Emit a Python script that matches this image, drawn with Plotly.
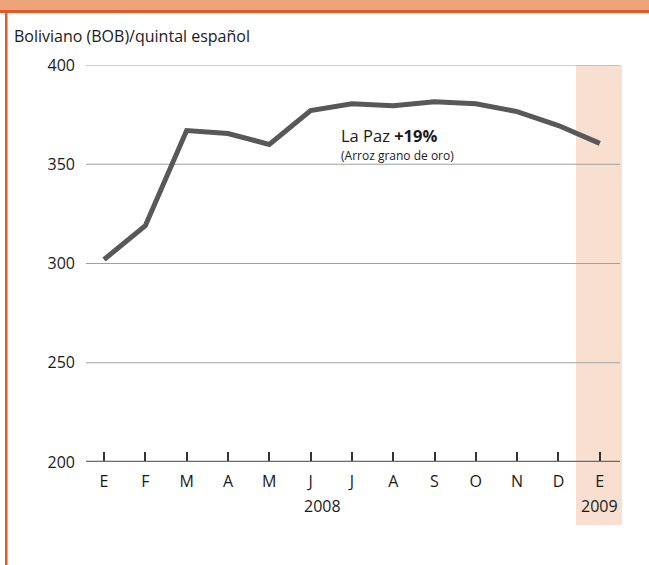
import plotly.graph_objects as go

# Monthly rice price, La Paz (Bolivianos per Spanish quintal)
months = ["E", "F", "M", "A", "M", "J", "J", "A", "S", "O", "N", "D", "E"]
prices = [302, 319, 367, 365.5, 360, 377, 380.5, 379.5, 381.5, 380.5, 376.5, 369.5, 360.5]
y_ticks = [200, 250, 300, 350, 400]
years = ["2008", "2009"]

W, H = 649, 565
L, R, T, B = 86, 29, 65, 103
pw, ph = W - L - R, H - T - B

def px(x):
    return (x - L) / pw

def py(y):
    return (T + ph - y) / ph

FONT = "Open Sans, Noto Sans, sans-serif"
TXT = "#1a1a1a"
xs = list(range(len(months)))

fig = go.Figure()
fig.add_trace(go.Scatter(
    x=xs, y=prices, mode="lines",
    line=dict(color="#58585a", width=5),
    hoverinfo="skip", showlegend=False,
))

shapes = [
    # highlighted 2009 column
    dict(type="rect", xref="paper", yref="paper", x0=px(576), x1=px(622),
         y0=py(525), y1=1, fillcolor="#f9dfcf", line_width=0, layer="below"),
    # frame: top band, rule and left bar
    dict(type="rect", xref="paper", yref="paper", x0=px(0), x1=px(W),
         y0=py(10), y1=py(0), fillcolor="#eea47b", line_width=0),
    dict(type="rect", xref="paper", yref="paper", x0=px(0), x1=px(W),
         y0=py(13), y1=py(10), fillcolor="#e0592a", line_width=0),
    dict(type="rect", xref="paper", yref="paper", x0=px(5), x1=px(7.5),
         y0=py(H), y1=py(10), fillcolor="#e0592a", line_width=0),
]

# horizontal gridlines
for v in y_ticks[1:]:
    shapes.append(dict(type="line", xref="paper", yref="y", x0=0, x1=1,
                       y0=v, y1=v, line=dict(color="#a0a0a0", width=1.2),
                       layer="below"))
# baseline at 200
shapes.append(dict(type="line", xref="paper", yref="y", x0=0, x1=1,
                   y0=y_ticks[0], y1=y_ticks[0],
                   line=dict(color="#6a6a6a", width=2.5)))

annotations = [
    dict(text="Boliviano (BOB)/quintal español", xref="paper", yref="paper",
         x=px(12), y=py(36), xanchor="left", yanchor="middle", showarrow=False,
         font=dict(family=FONT, size=16, color=TXT)),
    dict(text="La Paz <b>+19%</b>", xref="paper", yref="paper",
         x=px(340), y=py(135.5), xanchor="left", yanchor="middle",
         showarrow=False, borderpad=0,
         font=dict(family=FONT, size=16.5, color=TXT)),
    dict(text="(Arroz grano de oro)", xref="paper", yref="paper",
         x=px(340), y=py(155.5), xanchor="left", yanchor="middle",
         showarrow=False, borderpad=0,
         font=dict(family=FONT, size=12, color=TXT)),
    dict(text=years[0], xref="x", yref="paper", x=5.3, y=py(506),
         xanchor="center", yanchor="middle", showarrow=False,
         font=dict(family=FONT, size=16, color=TXT)),
    dict(text=years[1], xref="x", yref="paper", x=12.0, y=py(506),
         xanchor="center", yanchor="middle", showarrow=False,
         font=dict(family=FONT, size=16, color=TXT)),
]

fig.update_layout(
    width=W, height=H,
    margin=dict(l=L, r=R, t=T, b=B, pad=0),
    paper_bgcolor="white", plot_bgcolor="rgba(0,0,0,0)",
    shapes=shapes, annotations=annotations,
    font=dict(family=FONT, size=16, color=TXT),
    xaxis=dict(
        range=[-0.436, 12.49], tickvals=xs, ticktext=months,
        showgrid=False, zeroline=False,
        showline=False, ticks="inside", ticklen=10, tickwidth=1.5,
        tickcolor="#333333", ticklabelstandoff=8,
        tickfont=dict(family=FONT, size=16, color=TXT),
    ),
    yaxis=dict(
        range=[200, 400], tickvals=y_ticks, showgrid=False,
        zeroline=False, showline=False,
        ticks="", ticklabelstandoff=10,
        tickfont=dict(family=FONT, size=16, color=TXT),
    ),
)

fig.write_html("out.html")
